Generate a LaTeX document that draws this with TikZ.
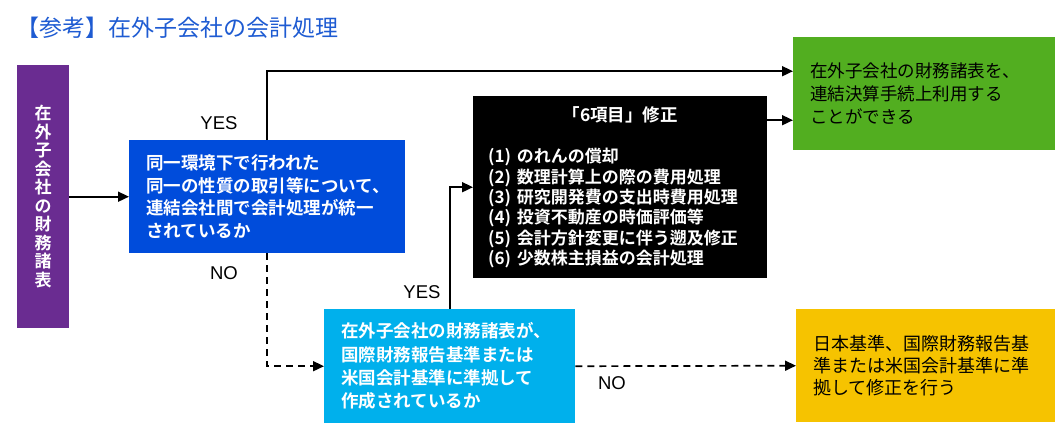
\documentclass[tikz,border=0pt]{standalone}
\usepackage{fontspec}
\setmainfont{Liberation Sans}
\newfontfamily\jp{Noto Sans CJK JP}[BoldFont={Noto Sans CJK JP Bold}]
\usetikzlibrary{arrows.meta,calc}
\definecolor{purpleC}{RGB}{106,44,145}
\definecolor{blueC}{RGB}{0,76,219}
\definecolor{cyanC}{RGB}{0,176,236}
\definecolor{greenC}{RGB}{82,174,32}
\definecolor{yellowC}{RGB}{246,195,0}
\definecolor{titleC}{RGB}{30,91,210}
\tikzset{
  box/.style={draw=none, anchor=north west, inner ysep=0pt, inner xsep=17pt, align=left},
  arr/.style={line width=1.7pt, -{Triangle[length=11pt,width=10pt]}},
  dash arr/.style={arr, dash pattern=on 7pt off 5pt},
  lab/.style={font=\fontsize{18.5}{20}\selectfont, inner sep=0pt},
}
\begin{document}
\begin{tikzpicture}[x=1pt,y=-1pt]
\useasboundingbox (0,0) rectangle (1056,424);

\node[anchor=west, inner sep=0pt, text=titleC, font=\jp\fontsize{23}{26}\selectfont] (title) at (16,28) {【参考】在外子会社の会計処理};

\node[box, fill=purpleC, inner xsep=0pt, minimum width=52pt, minimum height=263pt, align=center, text=white,
  font=\jp\bfseries\fontsize{17}{18.5}\selectfont] (src) at (17,65)
  {在\\外\\子\\会\\社\\の\\財\\務\\諸\\表};

\node[box, fill=blueC, minimum width=276pt, minimum height=113pt, text width=242pt, text=white,
  font=\jp\bfseries\fontsize{17.5}{22.7}\selectfont] (q1) at (129,140)
  {同一環境下で行われた\\同一の性質の取引等について、\\連結会社間で会計処理が統一\\されているか};

\node[box, fill=greenC, minimum width=262pt, minimum height=113pt, text width=228pt, text=black,
  font=\jp\fontsize{17.5}{23}\selectfont] (ok) at (793,37)
  {在外子会社の財務諸表を、\\連結決算手続上利用する\\ことができる};

\node[box, fill=black, inner xsep=15pt, minimum width=294pt, minimum height=182pt, text width=264pt, text=white,
  font=\jp\bfseries\fontsize{17}{20.4}\selectfont] (six) at (473,96)
  {\makebox[264pt][c]{\fontsize{17.5}{20.4}\selectfont 「6項目」修正}\\[21pt]
   (1) のれんの償却\\
   (2) 数理計算上の際の費用処理\\
   (3) 研究開発費の支出時費用処理\\
   (4) 投資不動産の時価評価等\\
   (5) 会計方針変更に伴う遡及修正\\
   (6) 少数株主損益の会計処理};

\node[box, fill=cyanC, minimum width=251pt, minimum height=114pt, text width=217pt, text=white,
  font=\jp\bfseries\fontsize{17.5}{23.3}\selectfont] (q2) at (324,309)
  {在外子会社の財務諸表が、\\国際財務報告基準または\\米国会計基準に準拠して\\作成されているか};

\node[box, fill=yellowC, minimum width=259pt, minimum height=113pt, text width=225pt, text=black,
  font=\jp\fontsize{18}{22}\selectfont] (fix) at (796,309)
  {日本基準、国際財務報告基\\準または米国会計基準に準\\拠して修正を行う};

\coordinate (g1) at ([yshift=22.5pt]ok.west);
\coordinate (g2) at ([yshift=-26.5pt]ok.west);

\draw[arr] (src.east) -- (q1.west);
\draw[arr] (q1.north) |- (g1);
\draw[arr] (six.east |- g2) -- (g2);
\draw[dash arr] (q1.south) |- (q2.west);
\draw[arr] (q2.north) |- (six.west);
\draw[dash arr] (q2.east) -- (fix.west);

\node[lab] (yes1) at (219,123) {YES};
\node[lab] (no1) at (224,273) {NO};
\node[lab] (yes2) at (422,292) {YES};
\node[lab] (no2) at (612,383) {NO};
\end{tikzpicture}
\end{document}
